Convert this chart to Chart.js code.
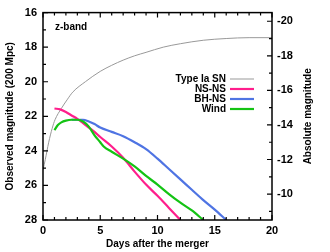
<!DOCTYPE html>
<html>
<head>
<meta charset="utf-8">
<script src="https://cdn.jsdelivr.net/npm/chart.js@4/dist/chart.umd.min.js"></script>
<style>
  html, body { margin: 0; padding: 0; background: #fff; }
  #wrap { width: 330px; height: 252px; }
</style>
</head>
<body>
<div id="wrap"><canvas id="zband" width="330" height="252"></canvas></div>
<script>
// light curves, z-band
const iaDays   = [0, 0.2, 0.5, 0.8, 1.05, 1.6, 2.1, 2.6, 3.7, 5, 6, 7, 8, 9, 10.5, 12, 14, 16, 18, 20];
const iaMag    = [25.1, 24.5, 23.5, 22.7, 22.2, 21.55, 21.05, 20.6, 20.0, 19.4, 19.05, 18.75, 18.5, 18.3, 18.0, 17.8, 17.6, 17.5, 17.45, 17.45];

const nsnsDays = [1, 1.5, 2, 2.5, 3, 3.5, 4, 4.5, 5, 6, 7, 8, 9, 10, 11, 12];
const nsnsMag  = [21.55, 21.6, 21.75, 21.95, 22.15, 22.4, 22.65, 22.9, 23.2, 23.75, 24.4, 25.2, 25.95, 26.6, 27.3, 28];

const bhnsDays = [2.5, 3, 3.5, 4, 4.5, 5, 6, 7, 8, 9, 10, 11, 12, 13, 14, 15, 16];
const bhnsMag  = [22.2, 22.2, 22.2, 22.3, 22.45, 22.65, 22.9, 23.15, 23.5, 23.9, 24.45, 25.05, 25.65, 26.25, 26.85, 27.4, 28];

const windDays = [1, 1.3, 1.6, 2, 2.5, 3, 3.5, 4, 4.5, 5, 5.3, 6, 7, 8, 9, 10, 11, 12, 13, 14];
const windMag  = [22.8, 22.5, 22.35, 22.25, 22.2, 22.2, 22.3, 22.6, 23.1, 23.5, 23.75, 24.05, 24.45, 24.9, 25.45, 25.95, 26.5, 27.0, 27.45, 28];

const xTicks   = [0, 5, 10, 15, 20];
const yTicks   = [16, 18, 20, 22, 24, 26, 28];
const absTicks = [-20, -18, -16, -14, -12, -10];
const distMod  = 36.5;   // 200 Mpc

const labelFont = 'bold 10px "Liberation Sans", Arial, sans-serif';

function zip(xs, ys) {
    return xs.map((x, i) => ({x: x, y: ys[i]}));
}

// gnuplot-like frame with inward ticks, titles, key and panel label
const framePlugin = {
    id: 'frame',
    afterDatasetsDraw(chart) {
        const {ctx, chartArea: a, scales} = chart;
        ctx.save();
        ctx.strokeStyle = '#000';
        ctx.lineWidth = 1.5;
        ctx.strokeRect(a.left, a.top, a.right - a.left, a.bottom - a.top);

        ctx.lineWidth = 1.2;
        ctx.beginPath();
        // x ticks, bottom and top
        for (let v = scales.x.min; v <= scales.x.max; v++) {
            const px = scales.x.getPixelForValue(v);
            const len = v % 5 === 0 ? 5 : 3;
            ctx.moveTo(px, a.bottom); ctx.lineTo(px, a.bottom - len);
            ctx.moveTo(px, a.top); ctx.lineTo(px, a.top + len);
        }
        // left y ticks
        for (let v = scales.y.min; v <= scales.y.max; v++) {
            const py = scales.y.getPixelForValue(v);
            const len = v % 2 === 0 ? 5 : 3;
            ctx.moveTo(a.left, py); ctx.lineTo(a.left + len, py);
        }
        // right (absolute) ticks
        for (let v = Math.ceil(scales.y2.min); v <= scales.y2.max; v++) {
            const py = scales.y2.getPixelForValue(v);
            const len = v % 2 === 0 ? 5 : 3;
            ctx.moveTo(a.right, py); ctx.lineTo(a.right - len, py);
        }
        ctx.stroke();

        ctx.fillStyle = '#000';
        ctx.font = labelFont;
        ctx.textBaseline = 'middle';

        // axis titles
        const midY = (a.top + a.bottom) / 2;
        ctx.textAlign = 'center';
        ctx.fillText('Days after the merger', (a.left + a.right) / 2, 244);
        ctx.save();
        ctx.translate(10, midY);
        ctx.rotate(-Math.PI / 2);
        ctx.fillText('Observed magnitude (200 Mpc)', 0, 0);
        ctx.restore();
        ctx.save();
        ctx.translate(308, midY);
        ctx.rotate(-Math.PI / 2);
        ctx.fillText('Absolute magnitude', 0, 0);
        ctx.restore();

        // panel label
        ctx.textAlign = 'left';
        ctx.fillText('z-band', 55, 27);

        // key
        chart.data.datasets.forEach((ds, i) => {
            const y = 79 + i * 10;
            ctx.textAlign = 'right';
            ctx.fillStyle = '#000';
            ctx.fillText(ds.label, 226, y + 0.5);
            ctx.strokeStyle = ds.borderColor;
            ctx.lineWidth = ds.borderWidth;
            ctx.beginPath();
            ctx.moveTo(230, y); ctx.lineTo(254, y);
            ctx.stroke();
        });
        ctx.restore();
    }
};

const tickFont = {family: '"Liberation Sans", Arial, sans-serif', size: 11, weight: 'bold'};

new Chart(document.getElementById('zband'), {
    type: 'line',
    data: {
        datasets: [
            {label: 'Type Ia SN', data: zip(iaDays, iaMag), borderColor: '#999999', borderWidth: 1, order: 3},
            {label: 'NS-NS', data: zip(nsnsDays, nsnsMag), borderColor: '#ff1e8c', borderWidth: 2.2, order: 1},
            {label: 'BH-NS', data: zip(bhnsDays, bhnsMag), borderColor: '#4f74e3', borderWidth: 2.2, order: 2},
            {label: 'Wind', data: zip(windDays, windMag), borderColor: '#14c314', borderWidth: 2.2, order: 0}
        ]
    },
    options: {
        responsive: false,
        animation: false,
        events: [],
        layout: {padding: {top: 10, left: 0, right: 0, bottom: 0}},
        elements: {
            point: {radius: 0},
            line: {cubicInterpolationMode: 'monotone', fill: false}
        },
        plugins: {legend: {display: false}, tooltip: {enabled: false}},
        scales: {
            x: {
                type: 'linear', min: 0, max: 20,
                afterBuildTicks: s => { s.ticks = xTicks.map(v => ({value: v})); },
                afterFit: s => { s.height = 32; },
                grid: {display: false, drawTicks: false},
                border: {display: false},
                ticks: {color: '#000', font: tickFont, padding: 4}
            },
            y: {
                type: 'linear', position: 'left', min: 16, max: 28, reverse: true,
                afterBuildTicks: s => { s.ticks = yTicks.map(v => ({value: v})); },
                afterFit: s => { s.width = 43; },
                grid: {display: false, drawTicks: false},
                border: {display: false},
                ticks: {color: '#000', font: tickFont, padding: 6}
            },
            y2: {
                type: 'linear', position: 'right',
                min: 16 - distMod, max: 28 - distMod, reverse: true,
                afterBuildTicks: s => { s.ticks = absTicks.map(v => ({value: v})); },
                afterFit: s => { s.width = 58; },
                grid: {display: false, drawTicks: false},
                border: {display: false},
                ticks: {color: '#000', font: tickFont, padding: 5, callback: v => String(v)}
            }
        }
    },
    plugins: [framePlugin]
});
</script>
</body>
</html>
